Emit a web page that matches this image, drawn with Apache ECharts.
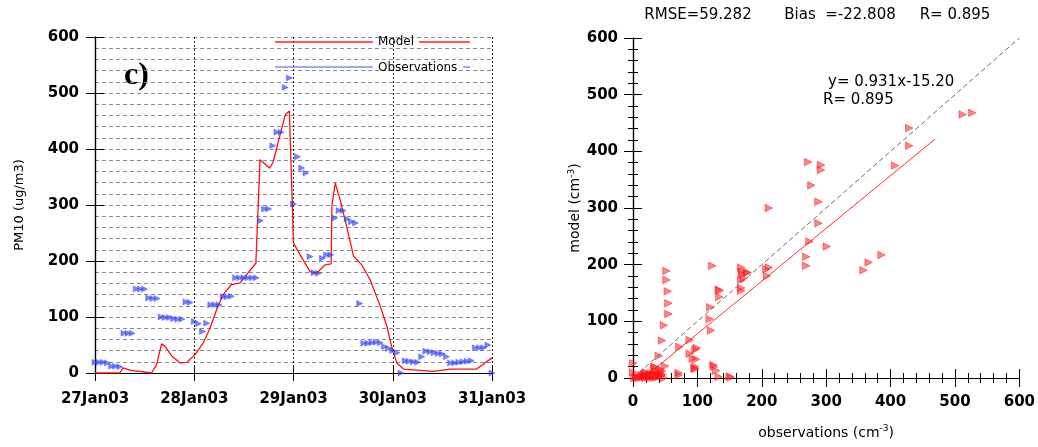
<!DOCTYPE html>
<html>
<head>
<meta charset="utf-8">
<script src="https://cdn.jsdelivr.net/npm/echarts@6/dist/echarts.min.js"></script>
<style>
html,body{margin:0;padding:0;background:#fff;}
#c{width:1038px;height:447px;}
</style>
</head>
<body>
<div id="c"></div>
<script>
// ---- Left panel: time series (hours since 27Jan03 00:00) ----
const dayLabels = ['27Jan03', '28Jan03', '29Jan03', '30Jan03', '31Jan03'];
// hourly PM10 observations, hour 0..96
const obsValues = [
  19,19,19,18, 12,12,11, 71,71,71, 150,150,150, 134,133,133, 100,99,99, 97,96,96, 127,126,
  92,88,74,89, 122,122,122, 136,136,137, 170,170,170,170,170,170,
  272, 293,293, 406, 430,430, 510, 527, 302, 386, 366, 357,
  208, 179,178, 205,211,211, 277, 290,290, 275,270,268, 124,
  53,53,54,55,54, 47,44,40,36, 0, 22,21,20,19, 29,
  39,38,36,35,34,29, 18,18,19,20,21,22, 45,45,45,50, 0
];
const modelHours = [0,6,6.8,8.5,13.7,14.9,16.1,16.9,18.6,20.6,22.2,24.2,26.2,27.8,29.4,31,33,35.1,36.7,38.9,39.3,39.9,42.2,43,46,47,48,50,52,53.6,55.6,57.1,57.3,58.1,59.3,61.7,62.5,64.5,66.5,69,70.6,71.8,73,74.6,81.8,85.9,92.3,96];
const modelValues = [0,0,9,5,0,15,52,48,30,18,19,33,54,80,113,140,158,161,176,196,199,381,366,375,461,468,232,206,181,178,193,195,300,339,309,235,209,193,167,119,83,45,18,7,3,7,7,27];

// ---- Right panel: scatter (observations, model) ----
const scatterObs = [
  512,527,429,429,407,272,292,292,277,288,211,288,274,301,269,269,358,366,386,207,211,208,
  168,169,170,177,168,168,168,178,172,
  52,52,54,55,55,48,45,40,34,50,0,0,
  71,71,72,88,88,99,97,93,98,97,97,95,
  119,120,121,123,133,135,134,125,126,129,133,150,152,
  2,5,8,10,12,14,15,17,18,19,20,21,22,24,25,26,27,28,30,31,32,33,35,36,38,40,42,44,45,46,48,20,35,43,33,41
];
const scatterModel = [
  465,468,441,410,375,381,376,367,340,311,300,273,241,232,214,198,190,204,217,192,195,180,
  195,188,183,186,173,159,154,186,176,
  189,173,153,132,113,93,66,39,19,21,26,10,
  9,5,55,67,43,53,50,34,33,20,16,17,
  104,125,84,198,156,154,143,23,20,13,2,3,1,
  0,2,1,0,3,5,1,6,2,4,0,7,3,5,1,6,2,8,4,0,6,3,7,1,5,2,8,4,12,6,0,10,12,15,20,11
];
const fitSlope = 0.931, fitIntercept = -15.20;
const fitRange = [16.33, 469];
const oneToOne = [0, 600];
const statsText = ['RMSE=59.282', 'Bias  =-22.808', 'R= 0.895'];
const fitText = ['y= 0.931x-15.20', 'R= 0.895'];

const FONT = 'DejaVu Sans';
const obsData = obsValues.map((v, i) => [i, v]);
const modelData = modelHours.map((h, i) => [h, modelValues[i]]);
const scatterData = scatterObs.map((x, i) => [x, scatterModel[i]]);
const fitData = fitRange.map(x => [x, fitSlope * x + fitIntercept]);
const diagData = oneToOne.map(v => [v, v]);

const blackLine = {show: true, lineStyle: {color: '#000', width: 1.2}};
const tickLbl = {fontFamily: FONT, fontSize: 15, fontWeight: 'bold', color: '#000'};

const chart = echarts.init(document.getElementById('c'));
chart.setOption({
  animation: false,
  backgroundColor: '#fff',
  grid: [
    {left: 95, top: 37, width: 397, height: 336},
    {left: 633, top: 38, width: 388, height: 340}
  ],
  xAxis: [
    {gridIndex: 0, type: 'value', min: 0, max: 96, interval: 24,
     axisLine: blackLine, axisTick: {show: true, length: 8, lineStyle: {color: '#000'}},
     axisLabel: Object.assign({margin: 19, formatter: v => dayLabels[Math.round(v / 24)]}, tickLbl),
     splitLine: {show: true, lineStyle: {color: '#111', width: 0.9, type: [2, 2]}}},
    {gridIndex: 0, type: 'value', min: 0, max: 96, interval: 24, position: 'top',
     axisLine: blackLine, axisTick: {show: true, length: 8, lineStyle: {color: '#000'}},
     axisLabel: {show: false}, splitLine: {show: false}},
    {gridIndex: 1, type: 'value', min: 0, max: 600, interval: 100,
     axisLine: blackLine, axisTick: {show: true, length: 9, lineStyle: {color: '#000'}},
     minorTick: {show: true, splitNumber: 5, length: 5, lineStyle: {color: '#000'}},
     axisLabel: Object.assign({margin: 17}, tickLbl),
     splitLine: {show: false},
     name: 'observations (cm{s|-3})', nameLocation: 'middle', nameGap: 46,
     nameTextStyle: {fontFamily: FONT, fontSize: 14, color: '#000',
       rich: {s: {fontFamily: FONT, fontSize: 9, color: '#000', padding: [0, 0, 9, 0]}}}},
    {gridIndex: 1, type: 'value', min: 0, max: 600, interval: 100, position: 'top',
     axisLine: blackLine, axisTick: {show: true, length: 9, lineStyle: {color: '#000'}},
     minorTick: {show: true, splitNumber: 5, length: 5, lineStyle: {color: '#000'}},
     axisLabel: {show: false}, splitLine: {show: false}}
  ],
  yAxis: [
    {gridIndex: 0, type: 'value', min: 0, max: 600, interval: 100,
     axisLine: blackLine, axisTick: {show: true, length: 9, lineStyle: {color: '#000'}},
     minorTick: {show: false, splitNumber: 5},
     axisLabel: Object.assign({margin: 16}, tickLbl),
     splitLine: {show: true, lineStyle: {color: '#8a8a8a', width: 1, type: [4, 3]}},
     minorSplitLine: {show: true, lineStyle: {color: '#8a8a8a', width: 1, type: [4, 3]}},
     name: 'PM10 (ug/m3)', nameLocation: 'middle', nameGap: 69,
     nameTextStyle: {fontFamily: FONT, fontSize: 13, color: '#000'}},
    {gridIndex: 0, type: 'value', min: 0, max: 600, interval: 100, position: 'right',
     axisLine: blackLine, axisTick: {show: true, length: 9, lineStyle: {color: '#000'}},
     axisLabel: {show: false}, splitLine: {show: false}},
    {gridIndex: 1, type: 'value', min: 0, max: 600, interval: 100,
     axisLine: blackLine, axisTick: {show: true, length: 9, lineStyle: {color: '#000'}},
     minorTick: {show: true, splitNumber: 5, length: 5, lineStyle: {color: '#000'}},
     axisLabel: Object.assign({margin: 15}, tickLbl),
     splitLine: {show: false},
     name: 'model (cm{s|-3})', nameLocation: 'middle', nameGap: 45,
     nameTextStyle: {fontFamily: FONT, fontSize: 14, color: '#000',
       rich: {s: {fontFamily: FONT, fontSize: 9, color: '#000', padding: [0, 0, 9, 0]}}}},
    {gridIndex: 1, type: 'value', min: 0, max: 600, interval: 100, position: 'right',
     axisLine: blackLine, axisTick: {show: true, length: 9, lineStyle: {color: '#000'}},
     minorTick: {show: true, splitNumber: 5, length: 5, lineStyle: {color: '#000'}},
     axisLabel: {show: false}, splitLine: {show: false}}
  ],
  series: [
    {type: 'line', name: 'Model', xAxisIndex: 0, yAxisIndex: 0, data: modelData,
     symbol: 'none', lineStyle: {color: '#ff1010', width: 1.3}, z: 3},
    {type: 'scatter', name: 'Observations', xAxisIndex: 0, yAxisIndex: 0, data: obsData,
     symbol: 'triangle', symbolRotate: -90, symbolSize: 6,
     itemStyle: {color: 'rgba(40,60,255,0.8)', borderColor: 'rgba(60,80,255,0.9)', borderWidth: 0.6}, z: 4},
    {type: 'line', xAxisIndex: 2, yAxisIndex: 2, data: diagData, symbol: 'none',
     lineStyle: {color: '#444', width: 0.8, type: [5, 3]}, z: 2},
    {type: 'line', xAxisIndex: 2, yAxisIndex: 2, data: fitData, symbol: 'none',
     lineStyle: {color: '#ff2a2a', width: 1}, z: 2},
    {type: 'scatter', xAxisIndex: 2, yAxisIndex: 2, data: scatterData,
     symbol: 'triangle', symbolRotate: -90, symbolSize: 7.5,
     itemStyle: {color: 'rgba(255,40,40,0.7)', borderColor: 'rgba(255,0,0,0.9)', borderWidth: 0.6}, z: 4}
  ],
  graphic: [
    // legend of left panel
    {type: 'line', z: 10, shape: {x1: 275, y1: 42, x2: 373, y2: 42}, style: {stroke: '#ff2020', lineWidth: 1.4}},
    {type: 'text', z: 10, x: 378, y: 41.5, style: {text: 'Model', font: '12px "DejaVu Sans"', fill: '#000', textVerticalAlign: 'middle'}},
    {type: 'line', z: 10, shape: {x1: 419, y1: 42, x2: 470, y2: 42}, style: {stroke: '#ff2020', lineWidth: 1.4}},
    {type: 'line', z: 10, shape: {x1: 275, y1: 67, x2: 373, y2: 67}, style: {stroke: '#8090f0', lineWidth: 1.5}},
    {type: 'text', z: 10, x: 378, y: 67.5, style: {text: 'Observations', font: '12px "DejaVu Sans"', fill: '#000', textVerticalAlign: 'middle'}},
    {type: 'line', z: 10, shape: {x1: 463, y1: 67, x2: 470, y2: 67}, style: {stroke: '#8090f0', lineWidth: 1.5}},
    {type: 'text', x: 124, y: 76, style: {text: 'c)', font: 'bold 32px "Liberation Serif"', fill: '#000', textVerticalAlign: 'middle'}},
    // right panel statistics
    {type: 'text', x: 698, y: 15, style: {text: statsText[0], font: '15px "DejaVu Sans"', fill: '#000', textAlign: 'center', textVerticalAlign: 'middle'}},
    {type: 'text', x: 840, y: 15, style: {text: statsText[1], font: '15px "DejaVu Sans"', fill: '#000', textAlign: 'center', textVerticalAlign: 'middle'}},
    {type: 'text', x: 955, y: 15, style: {text: statsText[2], font: '15px "DejaVu Sans"', fill: '#000', textAlign: 'center', textVerticalAlign: 'middle'}},
    {type: 'text', x: 828, y: 82, style: {text: fitText[0], font: '15px "DejaVu Sans"', fill: '#000', textVerticalAlign: 'middle'}},
    {type: 'text', x: 823, y: 100, style: {text: fitText[1], font: '15px "DejaVu Sans"', fill: '#000', textVerticalAlign: 'middle'}}
  ]
});
</script>
</body>
</html>
